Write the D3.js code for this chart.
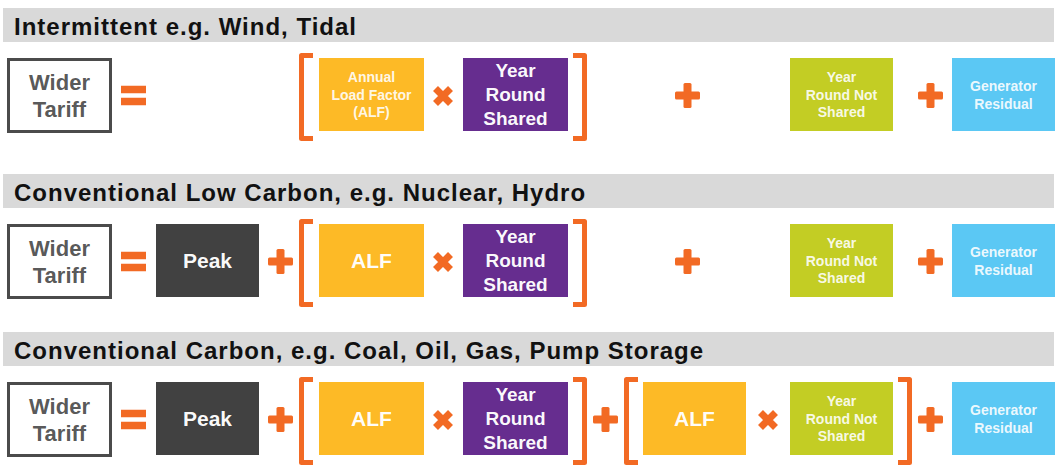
<!DOCTYPE html>
<html>
<head>
<meta charset="utf-8">
<script src="https://cdn.jsdelivr.net/npm/d3@7/dist/d3.min.js"></script>
<style>
  body { margin: 0; background: #fff; }
  text { font-family: "Liberation Sans", Arial, sans-serif; font-weight: bold; }
</style>
</head>
<body>
<svg id="fig"></svg>
<script>
var W = 1059, H = 466;

// Row headings
var rowTitles = [
  "Intermittent e.g. Wind, Tidal",
  "Conventional Low Carbon, e.g. Nuclear, Hydro",
  "Conventional Carbon, e.g. Coal, Oil, Gas, Pump Storage"
];

// Terms of each formula, left to right
var rowTerms = [
  ["tariff", "eq", "lb1", "alfLong", "times1", "yrs", "rb1", "plusMid", "yrns", "plus3", "residual"],
  ["tariff", "eq", "peak", "plus1", "lb1", "alf1", "times1", "yrs", "rb1", "plusMid", "yrns", "plus3", "residual"],
  ["tariff", "eq", "peak", "plus1", "lb1", "alf1", "times1", "yrs", "rb1", "plus2", "lb2", "alf2", "times2", "yrns", "rb2", "plus3", "residual"]
];

// Text inside the blocks
var blockLabels = {
  tariff: ["Wider", "Tariff"],
  peak: ["Peak"],
  alfLong: ["Annual", "Load Factor", "(ALF)"],
  alf1: ["ALF"],
  alf2: ["ALF"],
  yrs: ["Year", "Round", "Shared"],
  yrns: ["Year", "Round Not", "Shared"],
  residual: ["Generator", "Residual"]
};

// ---- layout (columns of the grid) ----
var slotNames = ["tariff", "eq", "peak", "plus1", "lb1", "alf1", "times1", "yrs", "rb1", "plus2", "lb2", "alf2", "times2", "plusMid", "yrns", "rb2", "plus3", "residual"];
var slotLeft  = [7, 121, 156, 268, 299, 319, 432, 463, 573, 593, 624, 643, 757, 675, 790, 898, 918, 952];
var slotWidth = [105, 25, 103, 25, 14, 105, 22, 105, 14, 25, 14, 103, 22, 25, 103, 14, 25, 103];

var xLeft = d3.scaleOrdinal().domain(slotNames).range(slotLeft);
var xWidth = d3.scaleOrdinal().domain(slotNames).range(slotWidth);
var rowY = d3.scaleOrdinal().domain([0, 1, 2]).range([8, 174, 332]);

var orange = "#f26a24";
var fills = { peak: "#414141", alf1: "#fdba26", alf2: "#fdba26", alfLong: "#fdba26",
              yrs: "#662d8f", yrns: "#c3cd24", residual: "#5bc8f4" };
var fontSize = { tariff: 22, peak: 21, alf1: 21, alf2: 21, yrs: 19, alfLong: 14, yrns: 14, residual: 14 };
var lineH = { tariff: 27, peak: 0, alf1: 0, alf2: 0, yrs: 24, alfLong: 17.5, yrns: 17.5, residual: 18 };

var headH = 34, boxOff = 50, boxH = 73;

function gpos(x, y) { return "translate(" + x + "," + y + ")"; }
function slotOf(t) { return t === "alfLong" ? "alf1" : t; }
function kindOf(t) {
  if (t === "eq") return "eq";
  if (t.indexOf("plus") === 0) return "plus";
  if (t.indexOf("times") === 0) return "times";
  if (t.indexOf("lb") === 0) return "lb";
  if (t.indexOf("rb") === 0) return "rb";
  return "box";
}

var svg = d3.select("#fig").attr("width", W).attr("height", H);

var rows = svg.selectAll("g.row").data(rowTitles).enter().append("g")
  .attr("class", "row")
  .attr("transform", function(d, i) { return gpos(0, rowY(i)); });

// Grey heading bands
rows.append("rect")
  .attr("x", 3).attr("y", 0)
  .attr("width", 1051).attr("height", headH)
  .attr("fill", "#d9d9d9");
rows.append("text")
  .attr("x", 14).attr("y", 27)
  .attr("font-size", 24)
  .attr("letter-spacing", 1)
  .attr("fill", "#111")
  .text(function(d) { return d; });

rows.each(function(title, r) {
  var g = d3.select(this).append("g").attr("transform", gpos(0, boxOff));
  var cy = boxH / 2;
  var terms = g.selectAll("g.term").data(rowTerms[r]).enter().append("g")
    .attr("class", "term")
    .attr("transform", function(t) { return gpos(xLeft(slotOf(t)), 0); });

  // coloured blocks
  var boxes = terms.filter(function(t) { return kindOf(t) === "box"; });
  boxes.append("rect")
    .attr("x", function(t) { return t === "tariff" ? 1.5 : 0; })
    .attr("y", function(t) { return t === "tariff" ? 1.5 : 0; })
    .attr("width", function(t) { return xWidth(slotOf(t)) - (t === "tariff" ? 3 : 0); })
    .attr("height", function(t) { return t === "tariff" ? boxH - 1 : boxH; })
    .attr("fill", function(t) { return t === "tariff" ? "#fff" : fills[t]; })
    .attr("stroke", function(t) { return t === "tariff" ? "#4b4b4b" : "none"; })
    .attr("stroke-width", 3);
  boxes.each(function(t) {
    var lines = blockLabels[t];
    var fs = fontSize[t], lh = lineH[t];
    var cap = 0.716 * fs;
    var first = (t === "tariff" ? cy + 1 : cy) - ((lines.length - 1) * lh + cap) / 2 + cap;
    d3.select(this).selectAll("text").data(lines).enter().append("text")
      .attr("x", xWidth(slotOf(t)) / 2)
      .attr("y", function(d, i) { return first + i * lh; })
      .attr("text-anchor", "middle")
      .attr("font-size", fs)
      .attr("fill", t === "tariff" ? "#555" : "#fff")
      .attr("fill-opacity", fs < 16 ? 0.9 : 0.97)
      .text(function(d) { return d; });
  });

  // equals
  var eqs = terms.filter(function(t) { return kindOf(t) === "eq"; });
  eqs.selectAll("rect").data([-9.75, 2.25]).enter().append("rect")
    .attr("x", 0).attr("y", function(d) { return cy + 1 + d; })
    .attr("width", function() { return xWidth("eq"); }).attr("height", 7.5)
    .attr("fill", orange);

  // plus signs
  var pluses = terms.filter(function(t) { return kindOf(t) === "plus"; });
  pluses.each(function(t) {
    var w = xWidth(t), c = cy + 1, th = 8;
    var p = d3.select(this);
    p.append("rect").attr("x", 0).attr("y", c - th / 2).attr("width", w).attr("height", th).attr("rx", 1.5).attr("fill", orange);
    p.append("rect").attr("x", w / 2 - th / 2).attr("y", c - w / 2).attr("width", th).attr("height", w).attr("rx", 1.5).attr("fill", orange);
  });

  // times signs
  var times = terms.filter(function(t) { return kindOf(t) === "times"; });
  times.each(function(t) {
    var w = xWidth(t), cx = w / 2, c = cy + 1.5, a = 7.5;
    d3.select(this).append("path")
      .attr("d", "M" + (cx - a) + "," + (c - a) + "L" + (cx + a) + "," + (c + a) +
                 "M" + (cx + a) + "," + (c - a) + "L" + (cx - a) + "," + (c + a))
      .attr("stroke", orange).attr("stroke-width", 7).attr("fill", "none");
  });

  // brackets
  var brackets = terms.filter(function(t) { return kindOf(t) === "lb" || kindOf(t) === "rb"; });
  brackets.each(function(t) {
    var w = xWidth(t), sw = 5, top = -5 + sw / 2, bot = boxH + 10 - sw / 2;
    var left = kindOf(t) === "lb";
    var bar = left ? sw / 2 : w - sw / 2, end = left ? w : 0;
    d3.select(this).append("path")
      .attr("d", "M" + end + "," + top + "L" + bar + "," + top + "L" + bar + "," + bot + "L" + end + "," + bot)
      .attr("stroke", orange).attr("stroke-width", sw)
      .attr("stroke-linejoin", "round").attr("fill", "none");
  });
});
</script>
</body>
</html>
